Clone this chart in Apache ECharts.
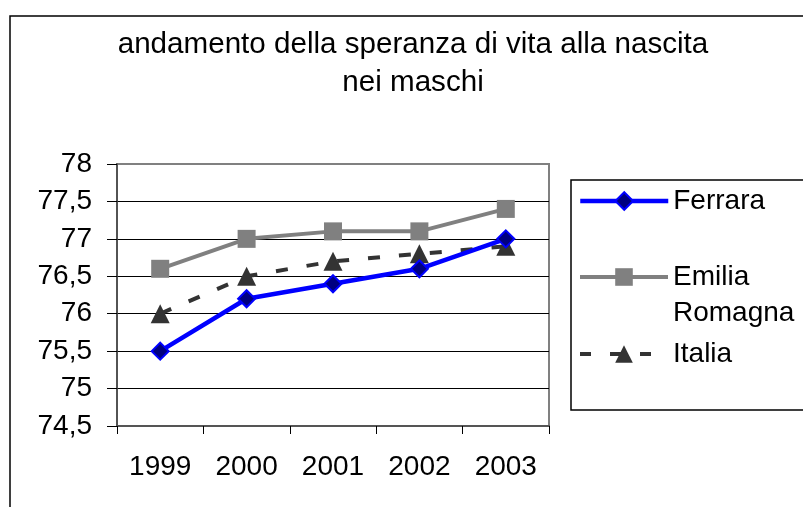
<!DOCTYPE html>
<html>
<head>
<meta charset="utf-8">
<script src="https://cdn.jsdelivr.net/npm/echarts@6/dist/echarts.min.js"></script>
<style>
  html, body { margin: 0; padding: 0; background: #fff; }
  #main { width: 803px; height: 507px; }
</style>
</head>
<body>
<div id="main"></div>
<script>
// dati
const anni = ['1999', '2000', '2001', '2002', '2003']
const ferrara = [75.5, 76.2, 76.4, 76.6, 77.0]
const emiliaRomagna = [76.6, 77.0, 77.1, 77.1, 77.4]
const italia = [76.0, 76.5, 76.7, 76.8, 76.9]

const FONT = "'Liberation Sans', Arial, sans-serif"

let chart = echarts.init(document.getElementById('main'))

chart.setOption({
  animation: false,
  backgroundColor: '#fff',
  textStyle: { fontFamily: FONT },
  title: {
    text: 'andamento della speranza di vita alla nascita\nnei maschi',
    left: 413,
    top: 26,
    padding: 0,
    textAlign: 'center',
    textStyle: {
      fontFamily: FONT,
      fontSize: 29.6,
      fontWeight: 'normal',
      color: '#000',
      lineHeight: 38
    }
  },
  grid: {
    left: 117,
    right: 254,
    top: 164,
    bottom: 81,
    show: true,
    borderColor: '#808080',
    borderWidth: 2
  },
  legend: [
    {
      data: ['Ferrara'],
      left: 578, top: 183, padding: 0,
      itemWidth: 88, itemHeight: 22,
      lineStyle: { width: 4.5 },
      textStyle: { fontSize: 28, lineHeight: 36, color: '#000', fontFamily: FONT }
    },
    {
      // riga vuota in testa: così "Emilia" sta all'altezza dell'icona
      data: ['Emilia Romagna'],
      left: 578, top: 223, padding: 0,
      itemWidth: 88, itemHeight: 22,
      lineStyle: { width: 4 },
      formatter: function () { return ' \nEmilia\nRomagna' },
      textStyle: { fontSize: 28, lineHeight: 36, color: '#000', fontFamily: FONT }
    },
    {
      data: ['Italia'],
      left: 578, top: 336, padding: 0,
      itemWidth: 88, itemHeight: 22,
      lineStyle: { width: 4, type: [11, 19] },
      textStyle: { fontSize: 28, lineHeight: 36, color: '#000', fontFamily: FONT }
    }
  ],
  xAxis: {
    type: 'category',
    data: anni,
    boundaryGap: true,
    axisLine: { lineStyle: { color: '#555', width: 2 } },
    axisTick: { show: true, length: 8, lineStyle: { color: '#000' } },
    axisLabel: { fontSize: 28, color: '#000', margin: 27, fontFamily: FONT }
  },
  yAxis: {
    type: 'value',
    min: 74.5,
    max: 78,
    interval: 0.5,
    axisLine: { show: true, lineStyle: { color: '#444', width: 1.5 } },
    axisTick: { show: true, length: 10, lineStyle: { color: '#000' } },
    axisLabel: {
      fontSize: 28, color: '#000', margin: 25, fontFamily: FONT,
      formatter: function (v) { return String(v).replace('.', ',') }
    },
    splitLine: {
      show: true,
      lineStyle: {
        color: ['#000', '#000', '#000', '#000', '#000', '#000', '#000', '#808080'],
        width: 1
      }
    }
  },
  graphic: [
    {
      type: 'rect',
      shape: { x: 10, y: 16, width: 900, height: 600 },
      style: { fill: 'none', stroke: '#000', lineWidth: 1.5 },
      z: 100
    },
    {
      type: 'rect',
      shape: { x: 571, y: 180, width: 300, height: 230 },
      style: { fill: 'none', stroke: '#000', lineWidth: 1.5 },
      z: 100
    }
  ],
  series: [
    {
      name: 'Ferrara',
      type: 'line',
      data: ferrara,
      symbol: 'diamond',
      symbolSize: 17,
      z: 4,
      lineStyle: { color: '#0000ff', width: 4.5 },
      itemStyle: { color: '#000080', borderColor: '#0000ff', borderWidth: 2 }
    },
    {
      name: 'Emilia Romagna',
      type: 'line',
      data: emiliaRomagna,
      symbol: 'rect',
      symbolSize: 18,
      z: 3,
      lineStyle: { color: '#808080', width: 4 },
      itemStyle: { color: '#808080' }
    },
    {
      name: 'Italia',
      type: 'line',
      data: italia,
      symbol: 'triangle',
      symbolSize: 19,
      z: 2,
      lineStyle: { color: '#333333', width: 4, type: [12, 19] },
      itemStyle: { color: '#333333' }
    }
  ]
})
</script>
</body>
</html>
